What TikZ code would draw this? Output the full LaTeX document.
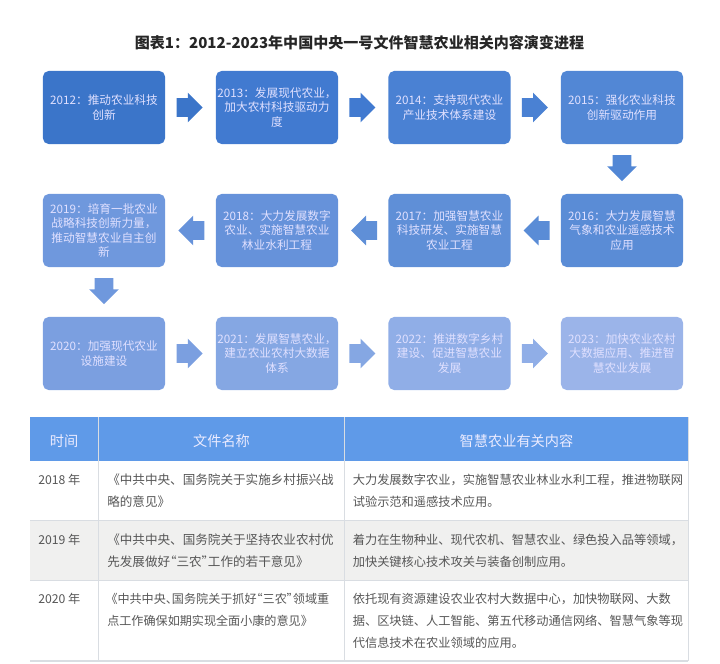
\documentclass[tikz,border=0pt]{standalone}
\usepackage{fontspec}
\setmainfont{Noto Sans CJK SC}
\newfontfamily\paltfont[RawFeature=+palt]{Noto Sans CJK SC}
\usetikzlibrary{shapes,arrows,positioning}

\definecolor{c2012}{HTML}{3B75C9}
\definecolor{c2013}{HTML}{417AD0}
\definecolor{c2014}{HTML}{4A81D3}
\definecolor{c2015}{HTML}{5287D5}
\definecolor{c2016}{HTML}{5A8CD6}
\definecolor{c2017}{HTML}{5F8FD7}
\definecolor{c2018}{HTML}{6692DA}
\definecolor{c2019}{HTML}{6F98DD}
\definecolor{c2020}{HTML}{7B9FE0}
\definecolor{c2021}{HTML}{85A7E3}
\definecolor{c2022}{HTML}{90AEE7}
\definecolor{c2023}{HTML}{9BB4E9}
\definecolor{headblue}{HTML}{5F9AE8}
\definecolor{rowgrey}{HTML}{F0F0EF}
\definecolor{gridgrey}{HTML}{D9DDE2}
\definecolor{bodytext}{HTML}{565656}

\begin{document}
\begin{tikzpicture}[
  x=0.025cm, y=-0.025cm,
  block/.style={rectangle, rounded corners=0.14cm, minimum width=3.05cm, minimum height=1.825cm, inner sep=0pt, align=center, text=white!88!blue, font=\fontsize{8.3}{10.2}\selectfont},
  flow/.style={single arrow, single arrow head extend=0.1375cm, minimum height=0.65cm},
  toright/.style={flow, inner xsep=0pt, inner ysep=0.225cm, xshift=-0.14cm},
  toleft/.style={flow, inner xsep=0pt, inner ysep=0.225cm, xshift=0.14cm, shape border rotate=180},
  todown/.style={flow, inner ysep=0pt, inner xsep=0.225cm, yshift=0.14cm, shape border rotate=270},
  head/.style={text=white!92!blue, font=\fontsize{10.1}{12}\selectfont},
  cell/.style={anchor=west, align=left, text=bodytext, inner sep=0pt, font=\fontsize{8.7}{15.6}\selectfont},
  namecell/.style={cell, font=\fontsize{8.95}{15.6}\selectfont}
]
\useasboundingbox (0,0) rectangle (720,663);

\node[font=\bfseries\fontsize{10.7}{13}\selectfont, text=black!85] (title) at (359.5,43) {图表1：2012-2023年中国中央一号文件智慧农业相关内容演变进程};

% flow boxes
\node[block, fill=c2012] (y2012) at (104,107.5) {2012：推动农业科技\\创新};
\node[block, fill=c2013] (y2013) at (277,107.5) {2013：发展现代农业，\\加大农村科技驱动力\\度};
\node[block, fill=c2014] (y2014) at (449.5,107.5) {2014：支持现代农业\\产业技术体系建设};
\node[block, fill=c2015] (y2015) at (622,107.5) {2015：强化农业科技\\创新驱动作用};
\node[block, fill=c2016] (y2016) at (622,230.5) {2016：大力发展智慧\\气象和农业遥感技术\\应用};
\node[block, fill=c2017] (y2017) at (449.5,230.5) {2017：加强智慧农业\\科技研发、实施智慧\\农业工程};
\node[block, fill=c2018] (y2018) at (277,230.5) {2018：大力发展数字\\农业、实施智慧农业\\林业水利工程};
\node[block, fill=c2019] (y2019) at (104,230.5) {2019：培育一批农业\\战略科技创新力量，\\推动智慧农业自主创\\新};
\node[block, fill=c2020] (y2020) at (104,353.5) {2020：加强现代农业\\设施建设};
\node[block, fill=c2021] (y2021) at (277,353.5) {2021：发展智慧农业，\\建立农业农村大数据\\体系};
\node[block, fill=c2022] (y2022) at (449.5,353.5) {2022：推进数字乡村\\建设、促进智慧农业\\发展};
\node[block, fill=c2023] (y2023) at (622,353.5) {2023：加快农业农村\\大数据应用、推进智\\慧农业发展};

\path (y2012) -- node[toright, fill=c2012] (a1) {} (y2013);
\path (y2013) -- node[toright, fill=c2013] (a2) {} (y2014);
\path (y2014) -- node[toright, fill=c2014] (a3) {} (y2015);
\path (y2015) -- node[todown, fill=c2015] (a4) {} (y2016);
\path (y2016) -- node[toleft, fill=c2016] (a5) {} (y2017);
\path (y2017) -- node[toleft, fill=c2017] (a6) {} (y2018);
\path (y2018) -- node[toleft, fill=c2018] (a7) {} (y2019);
\path (y2019) -- node[todown, fill=c2019] (a8) {} (y2020);
\path (y2020) -- node[toright, fill=c2020] (a9) {} (y2021);
\path (y2021) -- node[toright, fill=c2021] (a10) {} (y2022);
\path (y2022) -- node[toright, fill=c2022] (a11) {} (y2023);

% table
\fill[headblue] (30,417) rectangle (688,460.5);
\fill[rowgrey] (30,520.5) rectangle (688,580);
\draw[gridgrey, line width=0.5pt] (30,520.5) -- (688,520.5);
\draw[gridgrey, line width=0.5pt] (30,580) -- (688,580);
\draw[gridgrey, line width=0.8pt] (30,661) -- (688,661);
\draw[gridgrey, line width=0.5pt] (98.5,417) -- (98.5,661);
\draw[gridgrey, line width=0.5pt] (344.5,417) -- (344.5,661);
\draw[gridgrey, line width=0.5pt] (688,417) -- (688,661);

\node[head] (hyear) at (64,441) {时间};
\node[head] (hname) at (221.5,441) {文件名称};
\node[head] (hcontent) at (516.5,441) {智慧农业有关内容};

\node[cell] (t2018) at (38,480) {2018 年};
\node[namecell] (n2018) at (107,491) {《中共中央、国务院关于实施乡村振兴战\\略的意见》};
\node[cell] (d2018) at (352.5,491) {大力发展数字农业，实施智慧农业林业水利工程，推进物联网\\试验示范和遥感技术应用。};

\node[cell] (t2019) at (38,539.5) {2019 年};
\node[namecell] (n2019) at (107,550.5) {《中共中央、国务院关于坚持农业农村优\\先发展做好{\paltfont “三农”}工作的若干意见》};
\node[cell] (d2019) at (352.5,550.5) {着力在生物种业、现代农机、智慧农业、绿色投入品等领域，\\加快关键核心技术攻关与装备创制应用。};

\node[cell] (t2020) at (38,598.5) {2020 年};
\node[cell, font=\fontsize{8.6}{15.6}\selectfont] (n2020) at (107,609.5) {\paltfont\hspace*{3pt}《中共中央、国务院关于抓好“三农”领域重\\点工作确保如期实现全面小康的意见》};
\node[cell] (d2020) at (352.5,620.5) {依托现有资源建设农业农村大数据中心，加快物联网、大数\\据、区块链、人工智能、第五代移动通信网络、智慧气象等现\\代信息技术在农业领域的应用。};

\end{tikzpicture}
\end{document}
